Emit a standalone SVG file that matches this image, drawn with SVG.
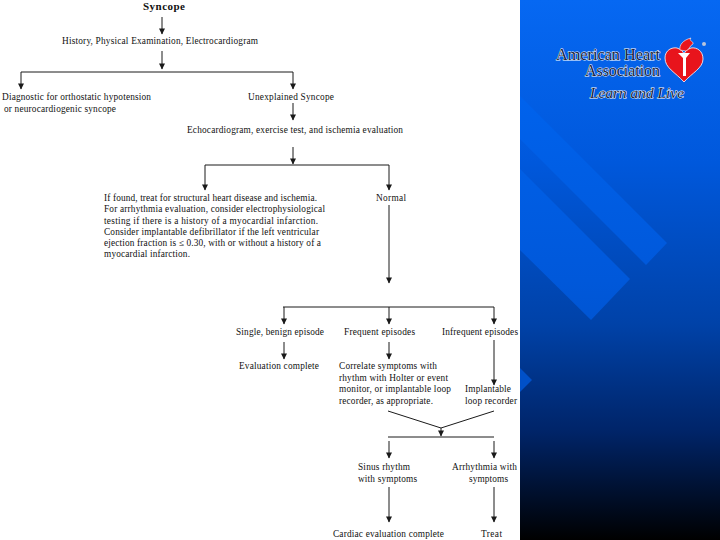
<svg xmlns="http://www.w3.org/2000/svg" width="720" height="540" viewBox="0 0 720 540">
<style>
text{font-family:"Liberation Serif","Times New Roman",serif;font-size:9.3px;fill:#111}
.c line,.c polyline{stroke:#1a1a1a;stroke-width:1;fill:none}
.a{marker-end:url(#ah)}
.logo{fill:#15233f;stroke:#fff;stroke-width:0.9px;paint-order:stroke;font-size:16px}
</style>
<defs>
<linearGradient id="bg" gradientUnits="userSpaceOnUse" x1="0" y1="0" x2="0" y2="540">
<stop offset="0" stop-color="#0668f2"/><stop offset="0.3" stop-color="#0058dc"/><stop offset="0.6" stop-color="#0042a8"/><stop offset="0.8" stop-color="#002468"/><stop offset="1" stop-color="#000"/>
</linearGradient>
<linearGradient id="st" gradientUnits="userSpaceOnUse" x1="0" y1="100" x2="0" y2="400">
<stop offset="0" stop-color="#0062ec"/><stop offset="0.6" stop-color="#0058da"/><stop offset="1" stop-color="#0050c6"/>
</linearGradient>
<marker id="ah" markerUnits="userSpaceOnUse" markerWidth="7" markerHeight="7" refX="6" refY="3.5" orient="auto" viewBox="0 0 7 7"><path d="M0.5 0.5L6.5 3.5L0.5 6.5Z" fill="#1a1a1a"/></marker>
</defs>
<g id="background">
<rect width="720" height="540" fill="#fff"/>
<rect x="520" width="200" height="540" fill="url(#bg)"/>
<polygon points="520,96 667,243 646,265 520,139" fill="url(#st)"/>
<polygon points="520,169 630,279 591,320 520,250" fill="url(#st)"/>
<polygon points="520,368 532,380 520,392" fill="#0050c8"/>
</g>
<g id="logo">
<text class="logo" x="556" y="60" textLength="104" lengthAdjust="spacingAndGlyphs">American Heart</text>
<text class="logo" x="585" y="76" textLength="75" lengthAdjust="spacingAndGlyphs">Association</text>
<text class="logo" x="590" y="98" textLength="94" lengthAdjust="spacingAndGlyphs" font-style="italic" style="font-size:14px">Learn and Live</text>
<path d="M684 82C675 72 665 68 665 58C665 50 672 47 677 48C680 49 683 51 684 54C685 51 688 49 691 48C697 47 703 51 703 59C703 68 692 73 684 82Z" fill="#e8141c" stroke="#fff" stroke-width="0.8"/>
<path d="M678 53H690L686 58V76H683V58Z" fill="#fff"/>
<path d="M680 50C679 45 683 40 691 38C688 41 694 41 693 44C690 45 690 49 686 51Z" fill="#e8141c" stroke="#fff" stroke-width="0.6"/>
<circle cx="704" cy="44" r="2" fill="#b8c4dc"/>
</g>
<g id="connectors" class="c">
<line class="a" x1="162" y1="17" x2="162" y2="34"/>
<line class="a" x1="162" y1="51" x2="162" y2="69"/>
<polyline class="a" points="162,72 21,72 21,89"/>
<polyline class="a" points="162,72 293,72 293,89"/>
<line class="a" x1="293" y1="103" x2="293" y2="120"/>
<line class="a" x1="293" y1="147" x2="293" y2="164"/>
<polyline class="a" points="293,165 205,165 205,190"/>
<polyline class="a" points="293,165 389,165 389,190"/>
<line class="a" x1="389" y1="205" x2="389" y2="283"/>
<line x1="283" y1="307" x2="494" y2="307"/>
<line class="a" x1="284" y1="307" x2="284" y2="324"/>
<line class="a" x1="389" y1="307" x2="389" y2="324"/>
<line class="a" x1="494" y1="307" x2="494" y2="324"/>
<line class="a" x1="284" y1="342" x2="284" y2="359"/>
<line class="a" x1="389" y1="342" x2="389" y2="359"/>
<line class="a" x1="494" y1="340" x2="494" y2="385"/>
<polyline points="388,411 441,428 494,411"/>
<line class="a" x1="441" y1="428" x2="441" y2="436"/>
<line x1="388" y1="437" x2="494" y2="437"/>
<line class="a" x1="389" y1="441" x2="389" y2="458"/>
<line class="a" x1="494" y1="441" x2="494" y2="458"/>
<line class="a" x1="389" y1="487" x2="389" y2="522"/>
<line class="a" x1="494" y1="487" x2="494" y2="522"/>
</g>
<g id="n-syncope"><text x="143" y="10" font-weight="bold" style="font-size:11px" textLength="42">Syncope</text></g>
<g id="n-history"><text x="62" y="44" textLength="196">History, Physical Examination, Electrocardiogram</text></g>
<g id="n-diagnostic"><text x="2" y="100" textLength="149">Diagnostic for orthostatic hypotension</text><text x="4" y="112" textLength="112">or neurocardiogenic syncope</text></g>
<g id="n-unexplained"><text x="248" y="100" textLength="86">Unexplained Syncope</text></g>
<g id="n-echo"><text x="187" y="133" textLength="216">Echocardiogram, exercise test, and ischemia evaluation</text></g>
<g id="n-found">
<text x="104" y="201" textLength="213">If found, treat for structural heart disease and ischemia.</text>
<text x="104" y="212" textLength="221">For arrhythmia evaluation, consider electrophysiological</text>
<text x="104" y="224" textLength="214">testing if there is a history of a myocardial infarction.</text>
<text x="104" y="235" textLength="215">Consider implantable defibrillator if the left ventricular</text>
<text x="104" y="246" textLength="217">ejection fraction is ≤ 0.30, with or without a history of a</text>
<text x="104" y="257" textLength="86">myocardial infarction.</text>
</g>
<g id="n-normal"><text x="376" y="201" textLength="30">Normal</text></g>
<g id="n-single"><text x="236" y="335" textLength="88">Single, benign episode</text></g>
<g id="n-frequent"><text x="344" y="335" textLength="71">Frequent episodes</text></g>
<g id="n-infrequent"><text x="442" y="335" textLength="76">Infrequent episodes</text></g>
<g id="n-complete"><text x="239" y="369" textLength="80">Evaluation complete</text></g>
<g id="n-correlate">
<text x="339" y="369" textLength="98">Correlate symptoms with</text>
<text x="339" y="381" textLength="109">rhythm with Holter or event</text>
<text x="339" y="392" textLength="112">monitor, or implantable loop</text>
<text x="339" y="404" textLength="94">recorder, as appropriate.</text>
</g>
<g id="n-loop"><text x="465" y="392" textLength="46">Implantable</text><text x="465" y="404" textLength="52">loop recorder</text></g>
<g id="n-sinus"><text x="358" y="470" textLength="52">Sinus rhythm</text><text x="358" y="482" textLength="59">with symptoms</text></g>
<g id="n-arrhythmia"><text x="452" y="470" textLength="65">Arrhythmia with</text><text x="469" y="482" textLength="39">symptoms</text></g>
<g id="n-cardiac"><text x="333" y="537" textLength="111">Cardiac evaluation complete</text></g>
<g id="n-treat"><text x="481" y="537" textLength="21">Treat</text></g>
</svg>
